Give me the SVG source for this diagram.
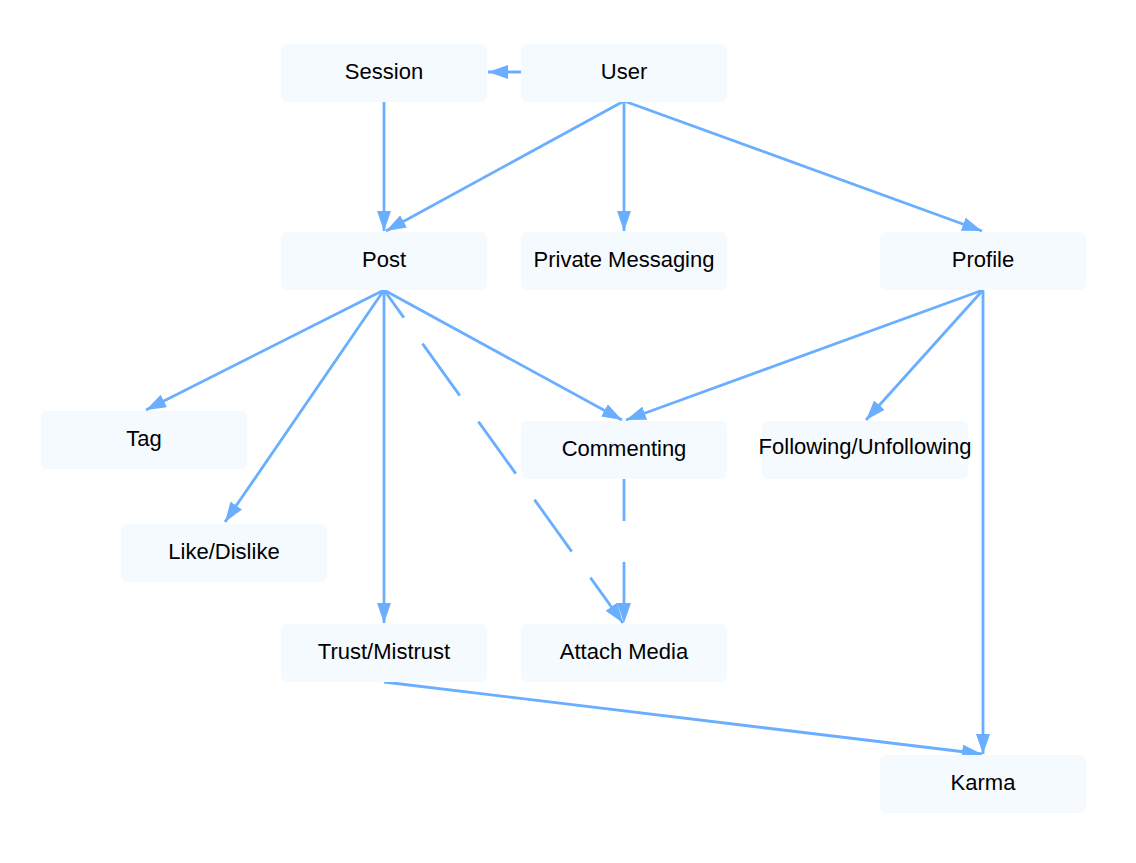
<svg xmlns="http://www.w3.org/2000/svg" width="1136" height="863" viewBox="0 0 1136 863">
<style>
.node rect{fill:#f5faff;stroke:none}
.node text{font-family:"Liberation Sans",Arial,sans-serif;font-size:22px;fill:#000;text-anchor:middle;dominant-baseline:central}
.edges line{stroke:#6aaeff;stroke-width:2.8;fill:none;marker-end:url(#arr)}
</style>
<defs>
<marker id="arr" markerUnits="userSpaceOnUse" markerWidth="20" markerHeight="14" refX="20" refY="7" orient="auto">
<path d="M0,0 L20,7 L0,14 Z" fill="#6aaeff"/>
</marker>
</defs>
<rect width="1136" height="863" fill="#fff"/>
<g class="edges">
<line x1="521" y1="72" x2="488" y2="72"/>
<line x1="384" y1="101" x2="384" y2="231"/>
<line x1="624" y1="101" x2="386" y2="231"/>
<line x1="624" y1="101" x2="624" y2="231"/>
<line x1="624" y1="101" x2="982" y2="231"/>
<line x1="384" y1="290" x2="146" y2="410"/>
<line x1="384" y1="290" x2="225" y2="522"/>
<line x1="384" y1="290" x2="384" y2="623"/>
<line x1="384" y1="290" x2="623" y2="623" stroke-dasharray="64 32" stroke-dashoffset="30"/>
<line x1="384" y1="290" x2="622" y2="420"/>
<line x1="983" y1="290" x2="626" y2="420"/>
<line x1="983" y1="290" x2="866" y2="420"/>
<line x1="983" y1="290" x2="983" y2="754"/>
<line x1="624" y1="479" x2="624" y2="623" stroke-dasharray="42 41"/>
<line x1="384" y1="682" x2="982" y2="754"/>
</g>
<g id="session" class="node"><rect x="281" y="44" width="206" height="58" rx="6"/><text x="384" y="71">Session</text></g>
<g id="user" class="node"><rect x="521" y="44" width="206" height="58" rx="6"/><text x="624" y="71">User</text></g>
<g id="post" class="node"><rect x="281" y="232" width="206" height="58" rx="6"/><text x="384" y="259">Post</text></g>
<g id="private-messaging" class="node"><rect x="521" y="232" width="206" height="58" rx="6"/><text x="624" y="259">Private Messaging</text></g>
<g id="profile" class="node"><rect x="880" y="232" width="206" height="58" rx="6"/><text x="983" y="259">Profile</text></g>
<g id="tag" class="node"><rect x="41" y="411" width="206" height="58" rx="6"/><text x="144" y="438">Tag</text></g>
<g id="commenting" class="node"><rect x="521" y="421" width="206" height="58" rx="6"/><text x="624" y="448">Commenting</text></g>
<g id="following" class="node"><rect x="762" y="421" width="206" height="58" rx="6"/><text x="865" y="446">Following/Unfollowing</text></g>
<g id="like-dislike" class="node"><rect x="121" y="524" width="206" height="58" rx="6"/><text x="224" y="551">Like/Dislike</text></g>
<g id="trust-mistrust" class="node"><rect x="281" y="624" width="206" height="58" rx="6"/><text x="384" y="651">Trust/Mistrust</text></g>
<g id="attach-media" class="node"><rect x="521" y="624" width="206" height="58" rx="6"/><text x="624" y="651">Attach Media</text></g>
<g id="karma" class="node"><rect x="880" y="755" width="206" height="58" rx="6"/><text x="983" y="782">Karma</text></g>
</svg>
